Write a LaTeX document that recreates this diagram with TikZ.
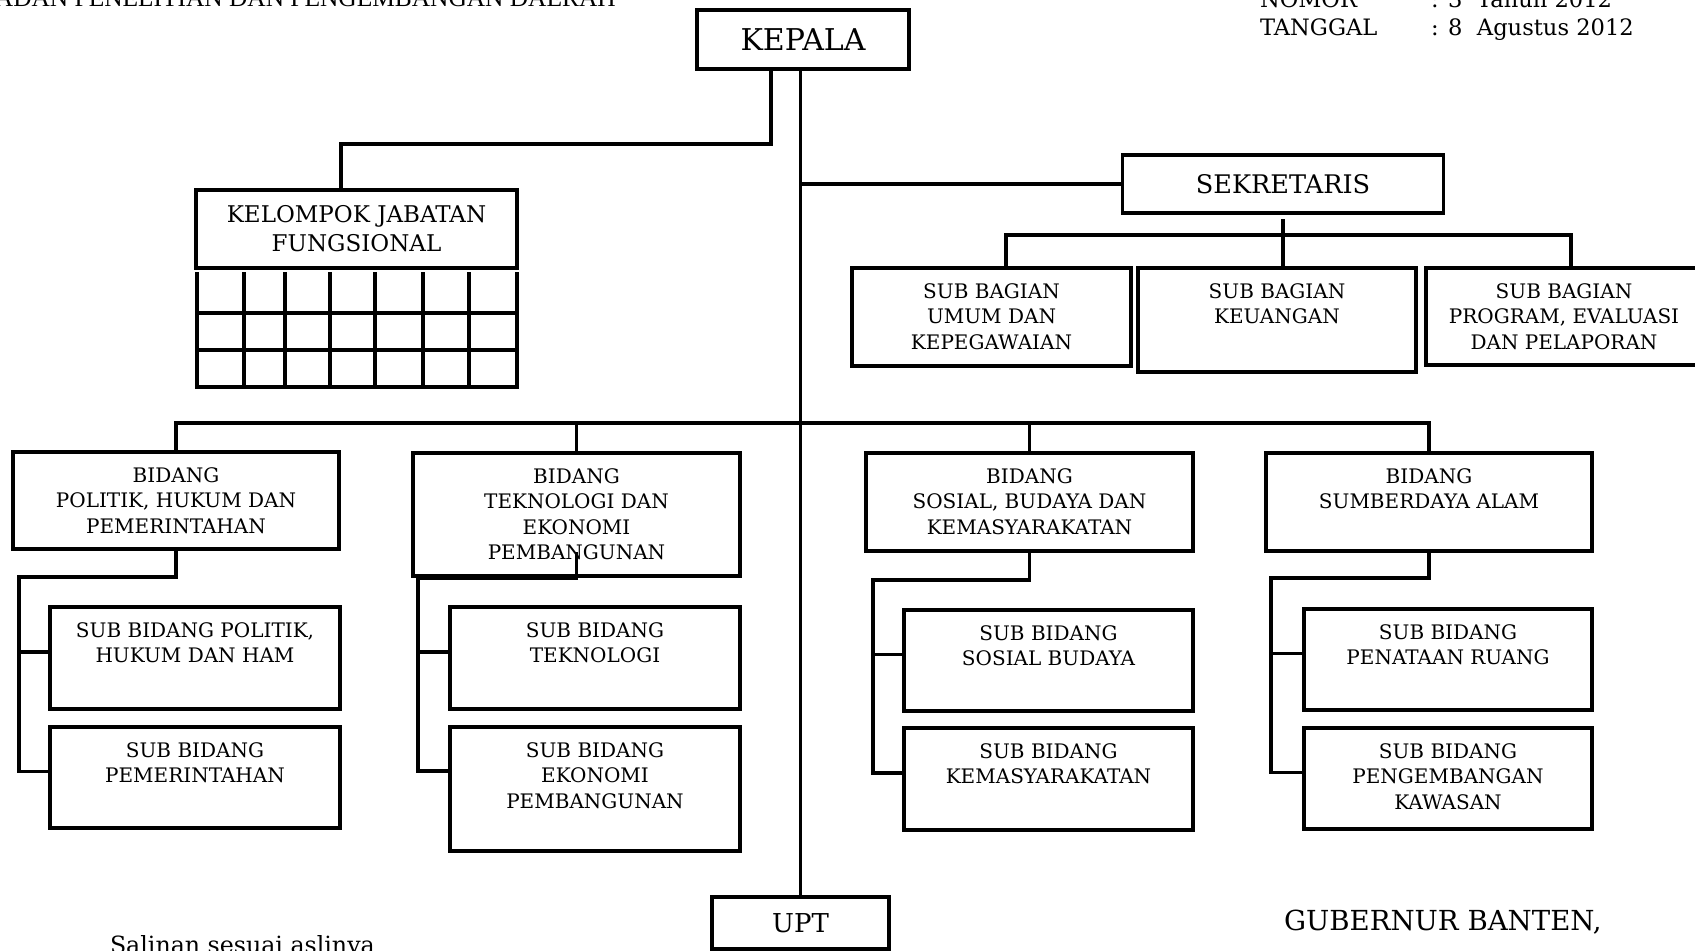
\documentclass[tikz,border=0pt]{standalone}
\usepackage{fontspec}
\setmainfont{DejaVu Serif}
\newfontfamily\timesfont{Liberation Serif}
\usetikzlibrary{calc}
\begin{document}
\begin{tikzpicture}[x=0.5pt,y=-0.5pt,
  box/.style={draw, line width=1.9pt, rectangle, inner sep=0pt, outer sep=0pt},
  wh/.style 2 args={minimum width=#1*0.5pt, minimum height=#2*0.5pt},
  con/.style={line width=1.7pt},
  gridline/.style={line width=1.8pt},
  tx/.style={inner sep=0pt, outer sep=0pt, align=center, font=\fontsize{10}{12.75}\selectfont},
  plain/.style={inner sep=0pt, outer sep=0pt, anchor=base west},
]
\useasboundingbox (0,0) rectangle (1695,950);
\clip (0,0) rectangle (1695,950);

% header texts
\node[plain, font=\timesfont\fontsize{12.7}{15}\selectfont] (hdr) at (-22,6) {BADAN PENELITIAN DAN PENGEMBANGAN DAERAH};
\node[plain, font=\fontsize{11.3}{14}\selectfont] (nomk) at (1260,7) {NOMOR};
\node[plain, font=\fontsize{11.3}{14}\selectfont] (nomv) at (1431,7) {: 3\ \ Tahun 2012};
\node[plain, font=\fontsize{11.3}{14}\selectfont] (tglk) at (1260,35) {TANGGAL};
\node[plain, font=\fontsize{11.3}{14}\selectfont] (tglv) at (1431,35) {: 8\ \ Agustus 2012};

% main boxes
\node[box, line width=2.3pt, wh={212}{59}, font=\fontsize{15}{17}\selectfont] (kepala) at (803,39.5) {KEPALA};
\node[box, wh={321}{58}, font=\fontsize{12.8}{15}\selectfont] (sek) at (1283,184) {SEKRETARIS};
\node[box, wh={321}{78}, align=center, font=\fontsize{11.5}{14.5}\selectfont] (kel) at (356.5,229) {KELOMPOK JABATAN\\FUNGSIONAL};
\node[box, wh={177}{52}, font=\fontsize{13}{15}\selectfont] (upt) at (800.5,923) {UPT};

% grid under kelompok jabatan fungsional
\foreach \gx in {197,244,285,330,375,423,469,517} \draw[gridline] (\gx,272) -- (\gx,389);
\foreach \gy in {313,350,387} \draw[gridline] (197,\gy) -- (517,\gy);

% sub bagian
\node[box, wh={279}{98}] (sb1) at (991.5,317) {};
\node[box, wh={278}{104}] (sb2) at (1277,320) {};
\node[box, wh={276}{97}] (sb3) at (1564,316.5) {};
\node[tx, anchor=north] (sb1t) at ([yshift=-7.6pt]sb1.north) {SUB BAGIAN\\UMUM DAN\\KEPEGAWAIAN};
\node[tx, anchor=north] (sb2t) at ([yshift=-7.6pt]sb2.north) {SUB BAGIAN\\KEUANGAN};
\node[tx, anchor=north] (sb3t) at ([yshift=-7.6pt]sb3.north) {SUB BAGIAN\\PROGRAM, EVALUASI\\DAN PELAPORAN};

% bidang
\node[box, wh={326}{97}] (b1) at (176,500.5) {};
\node[box, wh={327}{123}] (b2) at (576.5,514.5) {};
\node[box, wh={327}{98}] (b3) at (1029.5,502) {};
\node[box, wh={326}{98}] (b4) at (1429,502) {};
\node[tx, anchor=north] (b1t) at ([yshift=-7.6pt]b1.north) {BIDANG\\POLITIK, HUKUM DAN\\PEMERINTAHAN};
\node[tx, anchor=north] (b2t) at ([yshift=-7.6pt]b2.north) {BIDANG\\TEKNOLOGI DAN\\EKONOMI\\PEMBANGUNAN};
\node[tx, anchor=north] (b3t) at ([yshift=-7.6pt]b3.north) {BIDANG\\SOSIAL, BUDAYA DAN\\KEMASYARAKATAN};
\node[tx, anchor=north] (b4t) at ([yshift=-7.6pt]b4.north) {BIDANG\\SUMBERDAYA ALAM};

% sub bidang
\node[box, wh={290}{102}] (s11) at (195,658) {};
\node[box, wh={290}{101}] (s12) at (195,777.5) {};
\node[box, wh={290}{102}] (s21) at (595,658) {};
\node[box, wh={290}{124}] (s22) at (595,789) {};
\node[box, wh={289}{101}] (s31) at (1048.5,660.5) {};
\node[box, wh={289}{102}] (s32) at (1048.5,779) {};
\node[box, wh={288}{101}] (s41) at (1448,659.5) {};
\node[box, wh={288}{101}] (s42) at (1448,778.5) {};
\node[tx, anchor=north] (s11t) at ([yshift=-7.6pt]s11.north) {SUB BIDANG POLITIK,\\HUKUM DAN HAM};
\node[tx, anchor=north] (s12t) at ([yshift=-7.6pt]s12.north) {SUB BIDANG\\PEMERINTAHAN};
\node[tx, anchor=north] (s21t) at ([yshift=-7.6pt]s21.north) {SUB BIDANG\\TEKNOLOGI};
\node[tx, anchor=north] (s22t) at ([yshift=-7.6pt]s22.north) {SUB BIDANG\\EKONOMI\\PEMBANGUNAN};
\node[tx, anchor=north] (s31t) at ([yshift=-7.6pt]s31.north) {SUB BIDANG\\SOSIAL BUDAYA};
\node[tx, anchor=north] (s32t) at ([yshift=-7.6pt]s32.north) {SUB BIDANG\\KEMASYARAKATAN};
\node[tx, anchor=north] (s41t) at ([yshift=-7.6pt]s41.north) {SUB BIDANG\\PENATAAN RUANG};
\node[tx, anchor=north] (s42t) at ([yshift=-7.6pt]s42.north) {SUB BIDANG\\PENGEMBANGAN\\KAWASAN};

% footer texts
\node[plain, font=\fontsize{13.8}{16}\selectfont] (gub) at (1284,930) {GUBERNUR BANTEN,};
\node[plain, font=\fontsize{11.85}{14}\selectfont] (sal) at (110,953) {Salinan sesuai aslinya};

% connectors
\coordinate (jf1) at (771,144);
\coordinate (jf2) at (341,144);
\coordinate (br1) at (1006,235);
\coordinate (br3) at (1571,235);
\coordinate (bus) at (0,423);
\coordinate (sp2) at (418,771);

\draw[con] (kepala.south -| upt.north) -- (upt.north);
\draw[con] (kepala.south -| jf1) -- (jf1) -- (jf2) -- (kel.north -| jf2);
\draw[con] (sek.west) -- (sek.west -| upt.north);
\draw[con] ([yshift=-3pt]sek.south) -- (sb2.north -| sek.south);
\draw[con] (sb1.north -| br1) -- (br1) -- (br3) -- (sb3.north -| br3);

\draw[con] (b1.north) -- (b1.north |- bus) -- (b4.north |- bus) -- (b4.north);
\draw[con] (b2.north) -- (b2.north |- bus);
\draw[con] (b3.north) -- (b3.north |- bus);

\draw[con] (b1.south) -- ++(0,28) -| ([xshift=-15.5pt,yshift=3pt]s12.west) -- ([yshift=3pt]s12.west);
\draw[con] ([xshift=-15.5pt,yshift=3pt]s11.west) -- ([yshift=3pt]s11.west);
\draw[con] ([yshift=12pt]b2.south) -- ++(0,26) -| (sp2) -- (sp2 -| s22.west);
\draw[con] ([xshift=-16pt,yshift=3pt]s21.west) -- ([yshift=3pt]s21.west);
\draw[con] (b3.south) -- ++(0,29) -| ([xshift=-15.5pt,yshift=3pt]s32.west) -- ([yshift=3pt]s32.west);
\draw[con] ([xshift=-15.5pt,yshift=3pt]s31.west) -- ([yshift=3pt]s31.west);
\draw[con] (b4.south) -- ++(0,27) -| ([xshift=-16.5pt,yshift=3pt]s42.west) -- ([yshift=3pt]s42.west);
\draw[con] ([xshift=-16.5pt,yshift=3pt]s41.west) -- ([yshift=3pt]s41.west);
\end{tikzpicture}
\end{document}
